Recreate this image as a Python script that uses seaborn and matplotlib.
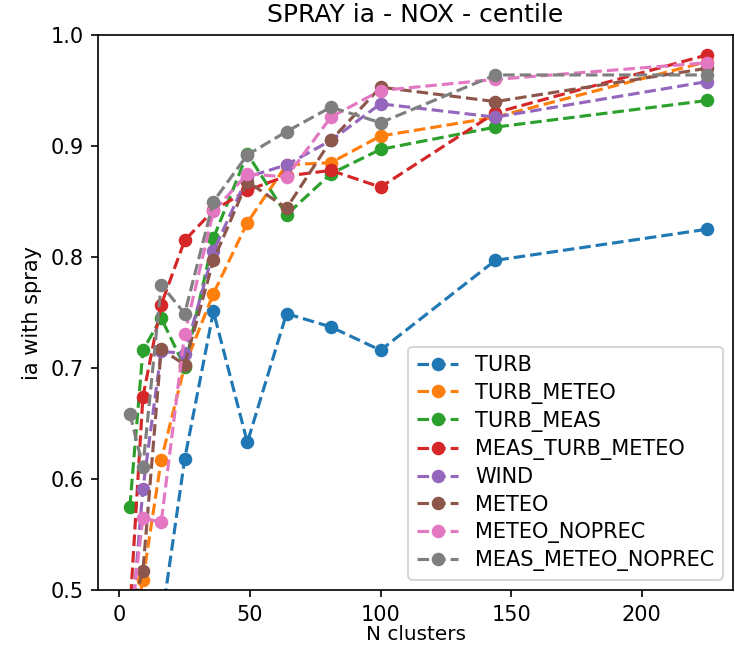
import matplotlib
matplotlib.use("Agg")
import matplotlib.pyplot as plt
import seaborn as sns
import pandas as pd

# Nombre de clusters (carrés 2^2 .. 15^2)
n_clusters = [4, 9, 16, 25, 36, 49, 64, 81, 100, 144, 225]

# Valeurs (les points sous 0.5 sont estimés)
turb = [0.40, 0.42, 0.47, 0.618, 0.751, 0.633, 0.749, 0.737, 0.716, 0.797, 0.825]
turb_meteo = [0.45, 0.509, 0.617, 0.702, 0.767, 0.831, 0.883, 0.885, 0.909, 0.926, 0.976]
turb_meas = [0.575, 0.716, 0.745, 0.701, 0.817, 0.893, 0.838, 0.875, 0.897, 0.917, 0.941]
meas_turb_meteo = [0.48, 0.674, 0.757, 0.815, 0.842, 0.860, 0.873, 0.878, 0.863, 0.930, 0.982]
wind = [0.45, 0.591, 0.715, 0.713, 0.805, 0.872, 0.883, 0.905, 0.938, 0.926, 0.958]
meteo = [0.477, 0.517, 0.717, 0.703, 0.797, 0.868, 0.844, 0.905, 0.953, 0.940, 0.970]
meteo_noprec = [0.465, 0.565, 0.561, 0.731, 0.841, 0.875, 0.872, 0.926, 0.950, 0.960, 0.975]
meas_meteo_noprec = [0.659, 0.611, 0.775, 0.749, 0.850, 0.892, 0.913, 0.935, 0.921, 0.964, 0.964]

series = {
    "TURB": turb,
    "TURB_METEO": turb_meteo,
    "TURB_MEAS": turb_meas,
    "MEAS_TURB_METEO": meas_turb_meteo,
    "WIND": wind,
    "METEO": meteo,
    "METEO_NOPREC": meteo_noprec,
    "MEAS_METEO_NOPREC": meas_meteo_noprec,
}

couleurs = sns.color_palette("tab10", len(series))

fig, ax = plt.subplots(figsize=(4.9, 647 / 150), dpi=150)
fig.subplots_adjust(left=98 / 735, right=733 / 735, bottom=1 - 590 / 647, top=1 - 35 / 647)

for (nom, valeurs), c in zip(series.items(), couleurs):
    df = pd.DataFrame({"n": n_clusters, "ia": valeurs})
    sns.lineplot(data=df, x="n", y="ia", ax=ax, color=c, linestyle="--", marker="o",
                 markeredgecolor=c, markeredgewidth=0, markersize=6.5, label=nom)

ax.set_ylim(0.5, 1.0)
ax.set_xlim(-8.2, 235)
ax.set_xticks([0, 50, 100, 150, 200])
ax.set_yticks([0.5, 0.6, 0.7, 0.8, 0.9, 1.0])
ax.set_xlabel("N clusters", labelpad=0, fontsize=9.6)
ax.set_ylabel("ia with spray")
ax.set_title("SPRAY ia - NOX - centile")
ax.legend(loc="lower right", labelspacing=0.35)

plt.savefig("out.png", dpi=150)
plt.close()
